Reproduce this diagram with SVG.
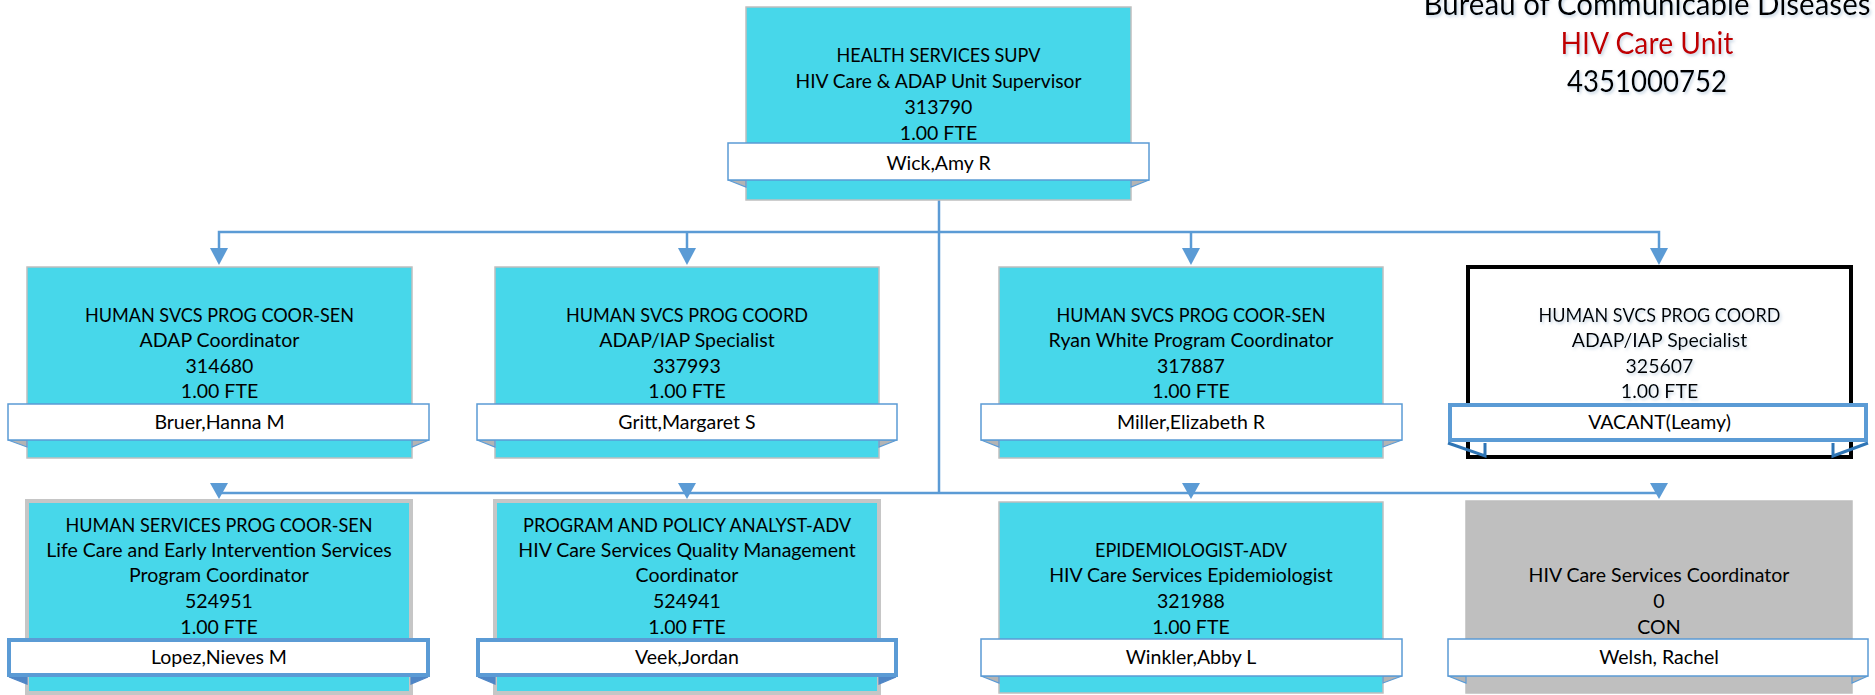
<svg xmlns="http://www.w3.org/2000/svg" width="1875" height="695" viewBox="0 0 1875 695">
<defs>
<filter id="sh" x="-10%" y="-40%" width="120%" height="180%">
<feDropShadow dx="1.5" dy="2" stdDeviation="1.5" flood-color="#7F9FBF" flood-opacity="0.45"/>
</filter>
</defs>
<style>
.box{fill:#47D7EA;stroke:#BFBFBF;stroke-width:1.5}
.boxg{fill:#47D7EA;stroke:#C6C6C6;stroke-width:4}
.boxc{fill:#BFBFBF;stroke:#BFBFBF;stroke-width:1.5}
.boxv{fill:#FFFFFF;stroke:#000000;stroke-width:4}
.nb{fill:#FFFFFF;stroke:#5B9BD5;stroke-width:1.5}
.nbt{fill:#FFFFFF;stroke:#5B9BD5;stroke-width:4}
.fold{fill:#B4B4B4;stroke:#5B9BD5;stroke-width:1.2}
.foldt{fill:#4F86C6;stroke:#4F86C6;stroke-width:1.2}
.foldv{fill:none;stroke:#2E75B6;stroke-width:3}
.t{font-family:Lato,"Liberation Sans",sans-serif;font-size:19.5px;fill:#000;text-anchor:middle}
.h{font-family:Lato,"Liberation Sans",sans-serif;font-size:30px;text-anchor:middle}
.ln{fill:none;stroke:#5B9BD5;stroke-width:2.5}
.ah{fill:#5B9BD5}
</style>

<g id="header" filter="url(#sh)">
<text class="h" x="1647" y="15" fill="#000" textLength="447" lengthAdjust="spacingAndGlyphs">Bureau of Communicable Diseases</text>
<text class="h" x="1647" y="54" fill="#C00000" textLength="173" lengthAdjust="spacingAndGlyphs">HIV Care Unit</text>
<text class="h" x="1647" y="92" fill="#000" textLength="160" lengthAdjust="spacingAndGlyphs">4351000752</text>
</g>

<g id="connectors">
<path class="ln" d="M939,200 V493"/>
<path class="ln" d="M219,250 V232 H1659 V250"/>
<path class="ln" d="M687,232 V250 M1191,232 V250"/>
<path class="ln" d="M219,493 H1659"/>
<polygon class="ah" points="210,248 228,248 219,265"/>
<polygon class="ah" points="678,248 696,248 687,265"/>
<polygon class="ah" points="1182,248 1200,248 1191,265"/>
<polygon class="ah" points="1650,248 1668,248 1659,265"/>
<polygon class="ah" points="210,483 228,483 219,499"/>
<polygon class="ah" points="678,483 696,483 687,499"/>
<polygon class="ah" points="1182,483 1200,483 1191,499"/>
<polygon class="ah" points="1650,483 1668,483 1659,499"/>
</g>

<g id="node-top">
<rect class="box" x="746" y="7" width="385" height="193"/>
<polygon class="fold" points="728,180 746,180 746,187"/>
<polygon class="fold" points="1149,180 1131,180 1131,187"/>
<rect class="nb" x="728" y="143" width="421" height="37"/>
<text class="t" x="938.5" y="62" textLength="204" lengthAdjust="spacingAndGlyphs">HEALTH SERVICES SUPV</text>
<text class="t" x="938.5" y="88" textLength="286" lengthAdjust="spacingAndGlyphs">HIV Care &amp; ADAP Unit Supervisor</text>
<text class="t" x="938.5" y="114">313790</text>
<text class="t" x="938.5" y="140">1.00 FTE</text>
<text class="t" x="938.5" y="170">Wick,Amy R</text>
</g>

<g id="node-314680">
<rect class="box" x="27" y="267" width="385" height="191"/>
<polygon class="fold" points="8,440 27,440 27,447"/>
<polygon class="fold" points="429,440 412,440 412,447"/>
<rect class="nb" x="8" y="404" width="421" height="36"/>
<text class="t" x="219.5" y="322" textLength="269" lengthAdjust="spacingAndGlyphs">HUMAN SVCS PROG COOR-SEN</text>
<text class="t" x="219.5" y="347">ADAP Coordinator</text>
<text class="t" x="219.5" y="373">314680</text>
<text class="t" x="219.5" y="398">1.00 FTE</text>
<text class="t" x="219.5" y="429">Bruer,Hanna M</text>
</g>

<g id="node-337993">
<rect class="box" x="495" y="267" width="384" height="191"/>
<polygon class="fold" points="477,440 495,440 495,447"/>
<polygon class="fold" points="897,440 879,440 879,447"/>
<rect class="nb" x="477" y="404" width="420" height="36"/>
<text class="t" x="687" y="322" textLength="242" lengthAdjust="spacingAndGlyphs">HUMAN SVCS PROG COORD</text>
<text class="t" x="687" y="347">ADAP/IAP Specialist</text>
<text class="t" x="687" y="373">337993</text>
<text class="t" x="687" y="398">1.00 FTE</text>
<text class="t" x="687" y="429">Gritt,Margaret S</text>
</g>

<g id="node-317887">
<rect class="box" x="999" y="267" width="384" height="191"/>
<polygon class="fold" points="981,440 999,440 999,447"/>
<polygon class="fold" points="1402,440 1383,440 1383,447"/>
<rect class="nb" x="981" y="404" width="421" height="36"/>
<text class="t" x="1191" y="322" textLength="269" lengthAdjust="spacingAndGlyphs">HUMAN SVCS PROG COOR-SEN</text>
<text class="t" x="1191" y="347">Ryan White Program Coordinator</text>
<text class="t" x="1191" y="373">317887</text>
<text class="t" x="1191" y="398">1.00 FTE</text>
<text class="t" x="1191" y="429">Miller,Elizabeth R</text>
</g>

<g id="node-325607">
<rect class="boxv" x="1468" y="267" width="383" height="190"/>
<path class="foldv" d="M1448,443 L1485,456 V443 M1868,443 L1833,456 V443"/>
<rect class="nbt" x="1450" y="405" width="416" height="35"/>
<g filter="url(#sh)">
<text class="t" x="1659.5" y="322" textLength="242" lengthAdjust="spacingAndGlyphs">HUMAN SVCS PROG COORD</text>
<text class="t" x="1659.5" y="347">ADAP/IAP Specialist</text>
<text class="t" x="1659.5" y="373">325607</text>
<text class="t" x="1659.5" y="398">1.00 FTE</text>
</g>
<text class="t" x="1659.5" y="429">VACANT(Leamy)</text>
</g>

<g id="node-524951">
<rect class="boxg" x="27" y="501" width="384" height="192"/>
<polygon class="foldt" points="9,677 27,677 27,684"/>
<polygon class="foldt" points="428,677 411,677 411,684"/>
<rect class="nbt" x="9" y="640" width="419" height="35"/>
<text class="t" x="219" y="532" textLength="307" lengthAdjust="spacingAndGlyphs">HUMAN SERVICES PROG COOR-SEN</text>
<text class="t" x="219" y="557">Life Care and Early Intervention Services</text>
<text class="t" x="219" y="582">Program Coordinator</text>
<text class="t" x="219" y="608">524951</text>
<text class="t" x="219" y="634">1.00 FTE</text>
<text class="t" x="219" y="664">Lopez,Nieves M</text>
</g>

<g id="node-524941">
<rect class="boxg" x="495" y="501" width="384" height="192"/>
<polygon class="foldt" points="478,677 495,677 495,684"/>
<polygon class="foldt" points="896,677 879,677 879,684"/>
<rect class="nbt" x="478" y="640" width="418" height="35"/>
<text class="t" x="687" y="532" textLength="328" lengthAdjust="spacingAndGlyphs">PROGRAM AND POLICY ANALYST-ADV</text>
<text class="t" x="687" y="557">HIV Care Services Quality Management</text>
<text class="t" x="687" y="582">Coordinator</text>
<text class="t" x="687" y="608">524941</text>
<text class="t" x="687" y="634">1.00 FTE</text>
<text class="t" x="687" y="664">Veek,Jordan</text>
</g>

<g id="node-321988">
<rect class="box" x="999" y="502" width="384" height="191"/>
<polygon class="fold" points="981,676 999,676 999,683"/>
<polygon class="fold" points="1402,676 1383,676 1383,683"/>
<rect class="nb" x="981" y="639" width="421" height="37"/>
<text class="t" x="1191" y="557" textLength="192" lengthAdjust="spacingAndGlyphs">EPIDEMIOLOGIST-ADV</text>
<text class="t" x="1191" y="582">HIV Care Services Epidemiologist</text>
<text class="t" x="1191" y="608">321988</text>
<text class="t" x="1191" y="634">1.00 FTE</text>
<text class="t" x="1191" y="664">Winkler,Abby L</text>
</g>

<g id="node-con">
<rect class="boxc" x="1466" y="501" width="386" height="192"/>
<polygon class="fold" points="1448,676 1466,676 1466,683"/>
<polygon class="fold" points="1868,676 1852,676 1852,683"/>
<rect class="nb" x="1448" y="639" width="420" height="37"/>
<text class="t" x="1659" y="582">HIV Care Services Coordinator</text>
<text class="t" x="1659" y="608">0</text>
<text class="t" x="1659" y="634">CON</text>
<text class="t" x="1659" y="664">Welsh, Rachel</text>
</g>
</svg>
